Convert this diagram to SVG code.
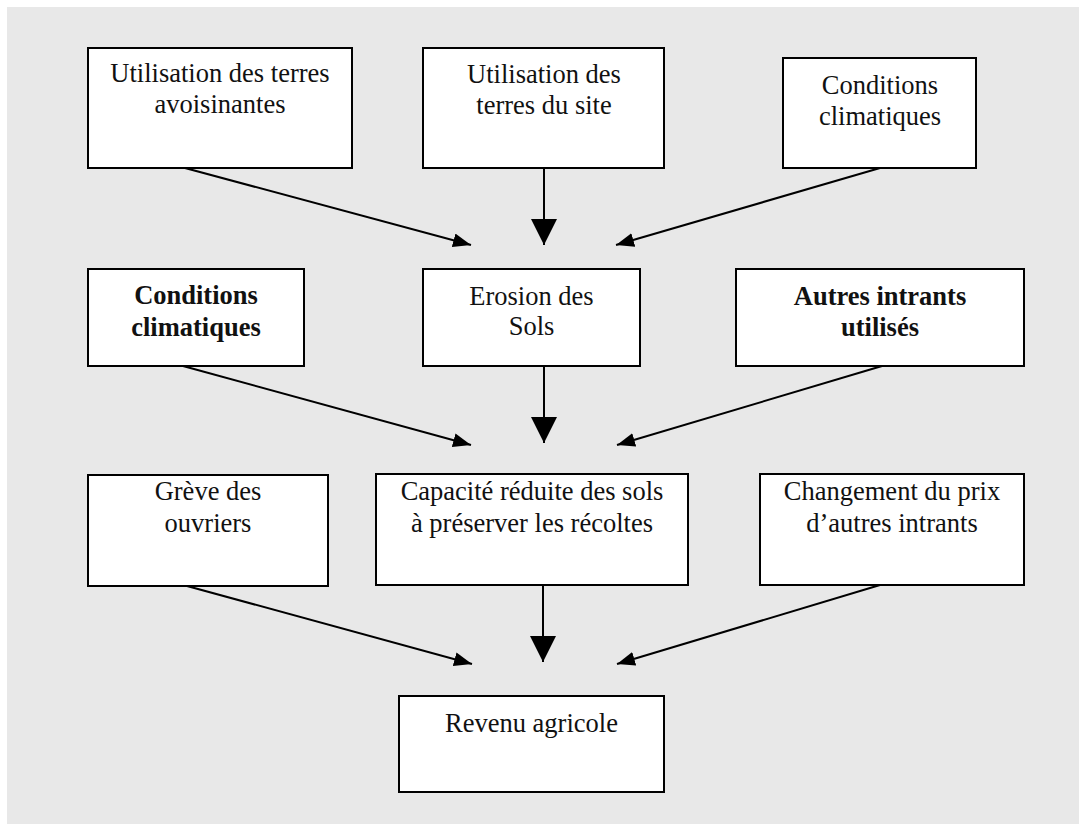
<svg xmlns="http://www.w3.org/2000/svg" width="1079" height="825" viewBox="0 0 1079 825">
  <style>
    .box { fill: #ffffff; stroke: #000000; stroke-width: 2; }
    .lbl { font-family: "Liberation Serif", "Times New Roman", serif; font-size: 26.5px; fill: #111111; text-anchor: middle; }
    .b { font-weight: bold; }
    .link { stroke: #000000; stroke-width: 2; fill: none; }
    .down { marker-end: url(#headBig); }
    .slant { marker-end: url(#headSmall); }
  </style>
  <defs>
    <marker id="headBig" markerUnits="userSpaceOnUse" markerWidth="26" markerHeight="26" refX="26" refY="13" orient="auto" viewBox="0 0 26 26">
      <path d="M0,0 L26,13 L0,26 z" fill="#000000"/>
    </marker>
    <marker id="headSmall" markerUnits="userSpaceOnUse" markerWidth="18" markerHeight="14" refX="18" refY="7" orient="auto" viewBox="0 0 18 14">
      <path d="M0,0 L18,7 L0,14 z" fill="#000000"/>
    </marker>
  </defs>

  <!-- panel background -->
  <rect x="7" y="7" width="1072" height="817" fill="#e8e8e8"/>

  <!-- connectors -->
  <g id="connectors">
    <line class="link slant" x1="185" y1="168" x2="471" y2="245"/>
    <line class="link down" x1="544" y1="168" x2="544" y2="245"/>
    <line class="link slant" x1="880" y1="168" x2="616" y2="245"/>

    <line class="link slant" x1="183" y1="366" x2="471" y2="445"/>
    <line class="link down" x1="544" y1="366" x2="544" y2="443"/>
    <line class="link slant" x1="882" y1="366" x2="617" y2="445"/>

    <line class="link slant" x1="187" y1="586" x2="472" y2="664"/>
    <line class="link down" x1="543" y1="586" x2="543" y2="662"/>
    <line class="link slant" x1="880" y1="585" x2="617" y2="664"/>
  </g>

  <!-- row 1 -->
  <g id="terres-avoisinantes">
    <rect class="box" x="88" y="48" width="264" height="120"/>
    <text class="lbl" x="220" y="82">Utilisation des terres</text>
    <text class="lbl" x="220" y="113">avoisinantes</text>
  </g>
  <g id="terres-site">
    <rect class="box" x="423" y="48" width="241" height="120"/>
    <text class="lbl" x="544" y="83">Utilisation des</text>
    <text class="lbl" x="544" y="114">terres du site</text>
  </g>
  <g id="conditions-climatiques-1">
    <rect class="box" x="783" y="58" width="193" height="110"/>
    <text class="lbl" x="880" y="94">Conditions</text>
    <text class="lbl" x="880" y="125">climatiques</text>
  </g>

  <!-- row 2 -->
  <g id="conditions-climatiques-2">
    <rect class="box" x="88" y="269" width="216" height="97"/>
    <text class="lbl b" x="196" y="304">Conditions</text>
    <text class="lbl b" x="196" y="336">climatiques</text>
  </g>
  <g id="erosion">
    <rect class="box" x="423" y="269" width="217" height="97"/>
    <text class="lbl" x="531.5" y="305">Erosion des</text>
    <text class="lbl" x="531.5" y="335">Sols</text>
  </g>
  <g id="autres-intrants">
    <rect class="box" x="736" y="269" width="288" height="97"/>
    <text class="lbl b" x="880" y="305">Autres intrants</text>
    <text class="lbl b" x="880" y="336">utilisés</text>
  </g>

  <!-- row 3 -->
  <g id="greve">
    <rect class="box" x="88" y="475" width="240" height="111"/>
    <text class="lbl" x="208" y="500">Grève des</text>
    <text class="lbl" x="208" y="532">ouvriers</text>
  </g>
  <g id="capacite">
    <rect class="box" x="376" y="474" width="312" height="111"/>
    <text class="lbl" x="532" y="500">Capacité réduite des sols</text>
    <text class="lbl" x="532" y="532">à préserver les récoltes</text>
  </g>
  <g id="changement-prix">
    <rect class="box" x="760" y="474" width="264" height="111"/>
    <text class="lbl" x="892" y="500">Changement du prix</text>
    <text class="lbl" x="892" y="532">d’autres intrants</text>
  </g>

  <!-- row 4 -->
  <g id="revenu">
    <rect class="box" x="399" y="696" width="265" height="96"/>
    <text class="lbl" x="531.5" y="732">Revenu agricole</text>
  </g>
</svg>
